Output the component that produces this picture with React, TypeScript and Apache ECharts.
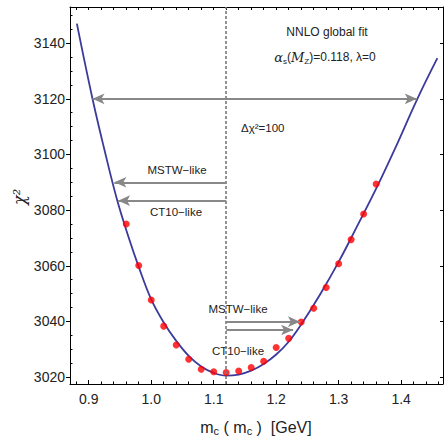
import React, { useEffect, useRef } from "react";
import * as echarts from "echarts";

// ---- data ----
const curveMc = [0.881, 0.906, 0.925, 0.945, 0.963, 0.98, 1.0, 1.02, 1.04, 1.06, 1.08, 1.1, 1.12, 1.14, 1.16, 1.18, 1.2, 1.22, 1.24, 1.27, 1.3, 1.33, 1.36, 1.39, 1.426, 1.458];
const curveChi2 = [3147, 3120, 3101.8, 3084, 3070.8, 3059.6, 3047.9, 3039.6, 3033, 3027.6, 3023.8, 3021.5, 3020.5, 3020.9, 3022.3, 3024.7, 3028.1, 3032.7, 3038.9, 3049.6, 3061.4, 3074.4, 3087.7, 3102, 3120, 3134.6];

const dotMc = [0.96, 0.98, 1.0, 1.02, 1.04, 1.06, 1.08, 1.1, 1.12, 1.14, 1.16, 1.18, 1.2, 1.22, 1.24, 1.26, 1.28, 1.3, 1.32, 1.34, 1.36];
const dotChi2 = [3075.0, 3060.1, 3047.7, 3038.3, 3031.5, 3026.4, 3022.8, 3021.9, 3021.6, 3022.2, 3023.4, 3025.7, 3030.6, 3033.9, 3039.8, 3044.7, 3052.2, 3060.7, 3069.4, 3078.6, 3089.4];

const centralMc = 1.12;
const rangeArrowChi2 = 3120;
const rangeArrowMc = [0.906, 1.425];
const leftArrowChi2 = [3090.0, 3083.4]; // MSTW-like, CT10-like
const leftArrowMc = [0.941, 0.947];
const rightArrowChi2 = [3039.9, 3036.9]; // MSTW-like, CT10-like
const rightArrowMc = [1.238, 1.227];

const xMajorTicks = [0.9, 1.0, 1.1, 1.2, 1.3, 1.4];
const xMinorTicks = [0.88, 0.92, 0.94, 0.96, 0.98, 1.02, 1.04, 1.06, 1.08, 1.12, 1.14, 1.16, 1.18, 1.22, 1.24, 1.26, 1.28, 1.32, 1.34, 1.36, 1.38, 1.42, 1.44, 1.46];
const yMajorTicks = [3020, 3040, 3060, 3080, 3100, 3120, 3140];
const yMinorTicks = [3025, 3030, 3035, 3045, 3050, 3055, 3065, 3070, 3075, 3085, 3090, 3095, 3105, 3110, 3115, 3125, 3130, 3135, 3145, 3150];

const X_MIN = 0.87;
const X_MAX = 1.467;
const Y_MIN = 3017.5;
const Y_MAX = 3153;

const FONT = "'Liberation Sans', Arial, sans-serif";

export default function App() {
  const ref = useRef<HTMLDivElement>(null);

  useEffect(() => {
    if (!ref.current) return;
    const chart = echarts.init(ref.current, undefined, { renderer: "svg" });

    const axisLine = { show: true, onZero: false, lineStyle: { color: "#000", width: 1 } };
    const noSplit = { show: false };
    const tickColor = { color: "#000", width: 1 };

    const arrowLine = { color: "#888888", width: 2, type: "solid" };

    const option: any = {
      animation: false,
      grid: { left: 70, right: 1, top: 7, bottom: 55, containLabel: false, outerBoundsMode: "none" },
      xAxis: [
        {
          type: "value", min: X_MIN, max: X_MAX, position: "bottom",
          axisLine,
          axisTick: { show: true, inside: true, length: 4, customValues: xMajorTicks, lineStyle: tickColor },
          axisLabel: { show: true, customValues: xMajorTicks, formatter: (v: number) => v.toFixed(1), fontSize: 14, color: "#222", fontFamily: FONT, margin: 8 },
          splitLine: noSplit,
        },
        {
          type: "value", min: X_MIN, max: X_MAX, position: "bottom",
          axisLine: { show: false, onZero: false },
          axisTick: { show: true, inside: true, length: 2.5, customValues: xMinorTicks, lineStyle: tickColor },
          axisLabel: { show: false },
          splitLine: noSplit,
        },
        {
          type: "value", min: X_MIN, max: X_MAX, position: "top",
          axisLine,
          axisTick: { show: true, inside: true, length: 3, customValues: [...xMajorTicks, ...xMinorTicks], lineStyle: tickColor },
          axisLabel: { show: false },
          splitLine: noSplit,
        },
      ],
      yAxis: [
        {
          type: "value", min: Y_MIN, max: Y_MAX, position: "left",
          axisLine,
          axisTick: { show: true, inside: false, length: 4, customValues: yMajorTicks, lineStyle: tickColor },
          axisLabel: { show: true, customValues: yMajorTicks, formatter: (v: number) => String(Math.round(v)), fontSize: 14, color: "#222", fontFamily: FONT, margin: 5 },
          splitLine: noSplit,
        },
        {
          type: "value", min: Y_MIN, max: Y_MAX, position: "left",
          axisLine: { show: false, onZero: false },
          axisTick: { show: true, inside: true, length: 2.5, customValues: yMinorTicks, lineStyle: tickColor },
          axisLabel: { show: false },
          splitLine: noSplit,
        },
        {
          type: "value", min: Y_MIN, max: Y_MAX, position: "right",
          axisLine,
          axisTick: { show: true, inside: true, length: 3, customValues: yMajorTicks, lineStyle: tickColor },
          axisLabel: { show: false },
          splitLine: noSplit,
        },
      ],
      series: [
        {
          type: "line",
          xAxisIndex: 0, yAxisIndex: 0,
          data: curveMc.map((x, i) => [x, curveChi2[i]]),
          smooth: 0.4,
          showSymbol: false,
          lineStyle: { color: "#3b3b9c", width: 1.8 },
          z: 3,
          silent: true,
          markLine: {
            silent: true,
            symbol: ["none", "none"],
            label: { show: false },
            emphasis: { disabled: true },
            lineStyle: { color: "#777777", width: 1.6, type: [3, 2] },
            data: [{ xAxis: centralMc }],
          },
        },
        {
          type: "scatter",
          xAxisIndex: 0, yAxisIndex: 0,
          data: dotMc.map((x, i) => [x, dotChi2[i]]),
          symbolSize: 7,
          itemStyle: { color: "#ff0000" },
          z: 4,
          silent: true,
          markLine: {
            silent: true,
            symbol: ["none", "arrow"],
            symbolSize: [8, 12],
            label: { show: false },
            emphasis: { disabled: true },
            lineStyle: arrowLine,
            data: [
              [
                { coord: [rangeArrowMc[0], rangeArrowChi2], symbol: "arrow" },
                { coord: [rangeArrowMc[1], rangeArrowChi2], symbol: "arrow" },
              ],
              [{ coord: [centralMc, leftArrowChi2[0]] }, { coord: [leftArrowMc[0], leftArrowChi2[0]] }],
              [{ coord: [centralMc, leftArrowChi2[1]] }, { coord: [leftArrowMc[1], leftArrowChi2[1]] }],
              [{ coord: [centralMc, rightArrowChi2[0]] }, { coord: [rightArrowMc[0], rightArrowChi2[0]] }],
              [{ coord: [centralMc, rightArrowChi2[1]] }, { coord: [rightArrowMc[1], rightArrowChi2[1]] }],
            ],
          },
        },
      ],
      graphic: [
        {
          type: "text", x: 327, y: 32,
          style: { text: "NNLO global fit", fontSize: 12, fontFamily: FONT, fill: "#222", align: "center", verticalAlign: "middle" },
        },
        {
          type: "text", x: 325, y: 57,
          style: {
            text: "{i|α}{s|s}({i|M}{s|Z})=0.118, λ=0",
            fontSize: 12, fontFamily: FONT, fill: "#222", align: "center", verticalAlign: "middle",
            rich: {
              i: { fontSize: 13, fontStyle: "italic", fontFamily: "'DejaVu Serif', serif", fill: "#222", lineHeight: 17 },
              s: { fontSize: 8, fontFamily: FONT, fill: "#222", verticalAlign: "bottom", lineHeight: 17 },
            },
          },
        },
        {
          type: "text", x: 241, y: 128,
          style: { text: "Δχ²=100", fontSize: 11.5, fontFamily: FONT, fill: "#222", align: "left", verticalAlign: "middle" },
        },
        {
          type: "text", x: 177, y: 170,
          style: { text: "MSTW−like", fontSize: 11.5, fontFamily: FONT, fill: "#222", align: "center", verticalAlign: "middle" },
        },
        {
          type: "text", x: 176, y: 212,
          style: { text: "CT10−like", fontSize: 11.5, fontFamily: FONT, fill: "#222", align: "center", verticalAlign: "middle" },
        },
        {
          type: "text", x: 238, y: 309,
          style: { text: "MSTW−like", fontSize: 11.5, fontFamily: FONT, fill: "#222", align: "center", verticalAlign: "middle" },
        },
        {
          type: "text", x: 238, y: 351,
          style: { text: "CT10−like", fontSize: 11.5, fontFamily: FONT, fill: "#222", align: "center", verticalAlign: "middle" },
        },
        {
          type: "text", x: 256, y: 427,
          style: {
            text: "m{s|c} ( m{s|c} )  [GeV]",
            fontSize: 16, fontFamily: FONT, fill: "#222", align: "center", verticalAlign: "middle",
            rich: {
              s: { fontSize: 11, fontFamily: FONT, fill: "#222", verticalAlign: "bottom", lineHeight: 19 },
            },
          },
        },
        {
          type: "text", x: 19, y: 197, rotation: Math.PI / 2,
          style: { text: "χ²", fontSize: 16, fontFamily: "'DejaVu Serif', serif", fontStyle: "italic", fill: "#222", align: "center", verticalAlign: "middle" },
        },
      ],
    };

    chart.setOption(option);
    return () => chart.dispose();
  }, []);

  return <div ref={ref} style={{ position: "absolute", left: 0, top: 0, width: 444, height: 439 }} />;
}
